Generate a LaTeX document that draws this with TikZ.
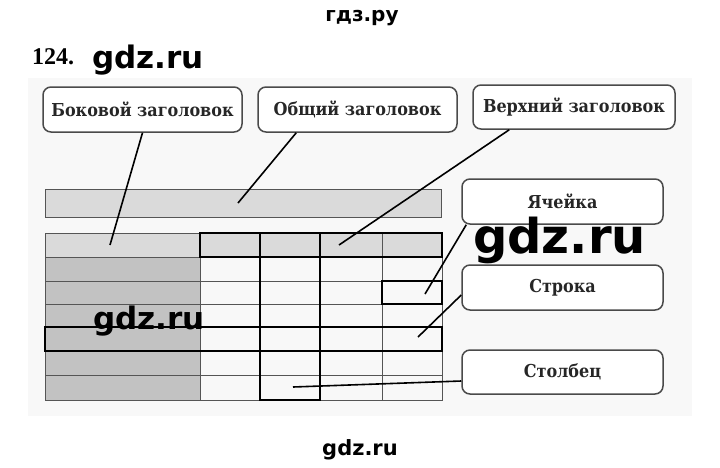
\documentclass[tikz,border=0pt]{standalone}
\usepackage{fontspec}
\setmainfont{DejaVu Serif Condensed}
\newfontfamily\wmfont{DejaVu Sans}
\newfontfamily\numfont{Liberation Serif}
\usetikzlibrary{calc}
\definecolor{boxline}{HTML}{4A4A4A}
\definecolor{gridline}{HTML}{555555}
\definecolor{lightcell}{HTML}{DADADA}
\definecolor{darkcell}{HTML}{C2C2C2}
\definecolor{scanbg}{HTML}{F8F8F8}
\tikzset{
  callout/.style={draw=boxline, line width=1.5pt, rounded corners=8pt, fill=white,
    inner sep=0pt, font=\bfseries\fontsize{17.8}{20}\selectfont, text=black!85},
  thin grid/.style={draw=gridline, line width=0.9pt},
  thick frame/.style={draw=black, line width=2.6pt},
  link/.style={draw=black, line width=1.6pt},
  watermark/.style={font=\wmfont\bfseries, text=black, inner sep=0pt}
}
\begin{document}
\begin{tikzpicture}[x=1pt,y=-1pt]
\useasboundingbox (0,0) rectangle (720,467);
\fill[white] (0,0) rectangle (720,467);
\fill[scanbg] (28,78) rectangle (692,416);

% top bar (общий заголовок)
\path[thin grid, fill=lightcell] (45,189) rectangle (441,217);

% table fills
\fill[lightcell] (45,233) rectangle (442,257);
\fill[darkcell] (45,257) rectangle (200,400);

% thin grid
\draw[thin grid] (45,233) rectangle (442,400);
\foreach \yy in {257,281,304,327,351,375} \draw[thin grid] (45,\yy) -- (442,\yy);
\foreach \xx in {200,260,320,382} \draw[thin grid] (\xx,233) -- (\xx,400);

% thick frames
\draw[thick frame] (200,233) rectangle (442,257);
\draw[thick frame] (260,233) rectangle (320,400);
\draw[thick frame] (382,281) rectangle (442,304);
\draw[thick frame] (45,327) rectangle (442,351);

% callouts
\node[callout, minimum width=199pt, minimum height=45pt] (bok) at (142.5,109.5) {Боковой заголовок};
\node[callout, minimum width=199pt, minimum height=45pt] (obs) at (357.5,109.5) {Общий заголовок};
\node[callout, minimum width=202pt, minimum height=44pt] (ver) at (574,107) {Верхний заголовок};
\node[callout, minimum width=201pt, minimum height=45pt] (yach) at (562.5,201.5) {Ячейка};
\node[callout, minimum width=201pt, minimum height=45pt] (str) at (562.5,287.5) {Строка};
\node[callout, minimum width=201pt, minimum height=44pt] (stol) at (562.5,372) {Столбец};

% connector ends
\coordinate (bokT) at (110,245);
\coordinate (obsT) at (238,203);
\coordinate (verT) at (339,245);
\coordinate (yachT) at (425,294);
\coordinate (strT) at (418,337);
\coordinate (stolT) at (293,387);

\draw[link] (bok.south) -- (bokT);
\draw[link] ($(obs.south west)+(39,0)$) -- (obsT);
\draw[link] ($(ver.south west)+(37,0)$) -- (verT);
\draw[link] ($(yach.south west)+(5,0)$) -- (yachT);
\draw[link] ($(str.west)+(0,7.5)$) -- (strT);
\draw[link] ($(stol.west)+(0,9)$) -- (stolT);

% labels and watermarks
\node[anchor=base west, inner sep=0pt, font=\numfont\bfseries\fontsize{24}{26}\selectfont] (num) at (32,64) {124.};
\node[watermark, font=\wmfont\bfseries\fontsize{20}{22}\selectfont] (wm1) at (362,18) {гдз.ру};
\node[watermark, anchor=base west, font=\wmfont\bfseries\fontsize{31}{33}\selectfont] (wm2) at (92,68) {gdz.ru};
\node[watermark, anchor=base west, font=\wmfont\bfseries\fontsize{48}{50}\selectfont] (wm3) at (473,253) {gdz.ru};
\node[watermark, anchor=base west, font=\wmfont\bfseries\fontsize{31}{33}\selectfont] (wm4) at (93,329) {gdz.ru};
\node[watermark, font=\wmfont\bfseries\fontsize{21}{23}\selectfont] (wm5) at (360,450) {gdz.ru};
\end{tikzpicture}
\end{document}
